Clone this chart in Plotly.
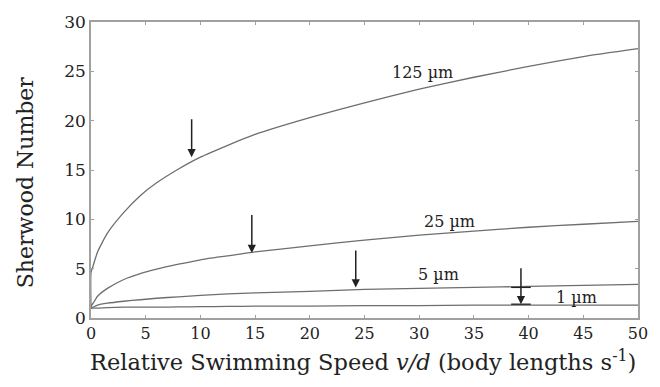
import plotly.graph_objects as go

# Relative swimming speed v/d (body lengths s^-1)
speed = [0, 0, 0.2, 0.6, 1.5, 3, 4.5, 6, 8, 10, 12.5, 15, 20, 25, 30, 35, 40, 45, 50]

# Sherwood number for each cell size
sh_125 = [1.0, 4.6, 5.3, 6.7, 8.6, 10.7, 12.4, 13.7, 15.1, 16.3, 17.5, 18.6, 20.3, 21.8, 23.2, 24.4, 25.5, 26.5, 27.3]
sh_25 = [1.0, 1.2, 1.5, 2.2, 3.0, 3.9, 4.5, 4.95, 5.45, 5.9, 6.3, 6.7, 7.3, 7.9, 8.4, 8.8, 9.2, 9.5, 9.8]
sh_5 = [1.0, 1.0, 1.1, 1.3, 1.5, 1.7, 1.85, 2.0, 2.15, 2.3, 2.45, 2.55, 2.7, 2.9, 3.0, 3.1, 3.2, 3.3, 3.4]
sh_1 = [1.0, 1.0, 1.0, 1.0, 1.05, 1.1, 1.1, 1.1, 1.12, 1.15, 1.17, 1.2, 1.2, 1.25, 1.25, 1.3, 1.3, 1.3, 1.3]

series_names = ["125 µm", "25 µm", "5 µm", "1 µm"]
label_x = [30.3, 32.8, 31.8, 44.4]
label_y = [24.9, 9.8, 4.4, 2.1]

# arrows marking a speed on each curve
arrow_x = [9.2, 14.7, 24.2, 39.3]
arrow_top = [20.3, 10.6, 7.0, 5.2]
arrow_tip = [16.3, 6.6, 3.1, 1.4]

x_ticks = [0, 5, 10, 15, 20, 25, 30, 35, 40, 45, 50]
y_ticks = [0, 5, 10, 15, 20, 25, 30]

x_title = "Relative Swimming Speed <i>v/d</i> (body lengths s<sup>-1</sup>)"
y_title = "Sherwood Number"

FONT = "DejaVu Serif"
fig = go.Figure()
for ys in [sh_125, sh_25, sh_5, sh_1]:
    fig.add_trace(go.Scatter(x=speed, y=ys, mode="lines",
                             line=dict(color="#6e6e6e", width=1.3, shape="spline", smoothing=0.5),
                             showlegend=False, hoverinfo="skip"))

annotations = []
for name, lx, ly in zip(series_names, label_x, label_y):
    annotations.append(dict(x=lx, y=ly, xref="x", yref="y", text=name, showarrow=False,
                            font=dict(family=FONT, size=16, color="#222")))
for axx, top, tip in zip(arrow_x, arrow_top, arrow_tip):
    annotations.append(dict(x=axx, y=tip, ax=axx, ay=top, xref="x", yref="y",
                            axref="x", ayref="y", text="", showarrow=True,
                            arrowhead=2, arrowsize=1.1, arrowwidth=1.5, arrowcolor="#222"))
annotations.append(dict(x=0.497, y=-0.145, xref="paper", yref="paper", text=x_title,
                        showarrow=False, xanchor="center", yanchor="middle",
                        font=dict(family=FONT, size=22.5, color="#222")))
annotations.append(dict(x=-0.12, y=0.46, xref="paper", yref="paper", text=y_title,
                        showarrow=False, xanchor="center", yanchor="middle", textangle=-90,
                        font=dict(family=FONT, size=22, color="#222")))

# bar marks on the 1 µm arrow
shapes = []
for yy in [arrow_tip[3], sh_5[-3] - 0.1]:
    shapes.append(dict(type="line", xref="x", yref="y", x0=arrow_x[3] - 0.9, x1=arrow_x[3] + 0.9,
                       y0=yy, y1=yy, line=dict(color="#222", width=1.3)))

fig.update_layout(
    width=660, height=387,
    margin=dict(l=91, r=19, t=19, b=69),
    paper_bgcolor="white", plot_bgcolor="white",
    font=dict(family=FONT, size=17, color="#222"),
    annotations=annotations, shapes=shapes,
)
fig.update_xaxes(range=[0, 50], tickvals=x_ticks, showgrid=False, zeroline=False,
                 showline=True, linecolor="#a0a0a0", linewidth=1.5, mirror="ticks",
                 ticks="inside", ticklen=3, tickcolor="#a0a0a0",
                 tickfont=dict(family=FONT, size=16))
fig.update_yaxes(range=[0, 30], tickvals=y_ticks, showgrid=False, zeroline=False,
                 showline=True, linecolor="#a0a0a0", linewidth=1.5, mirror="ticks",
                 ticks="inside", ticklen=3, tickcolor="#a0a0a0",
                 tickfont=dict(family=FONT, size=17))

fig.write_html("out.html")
